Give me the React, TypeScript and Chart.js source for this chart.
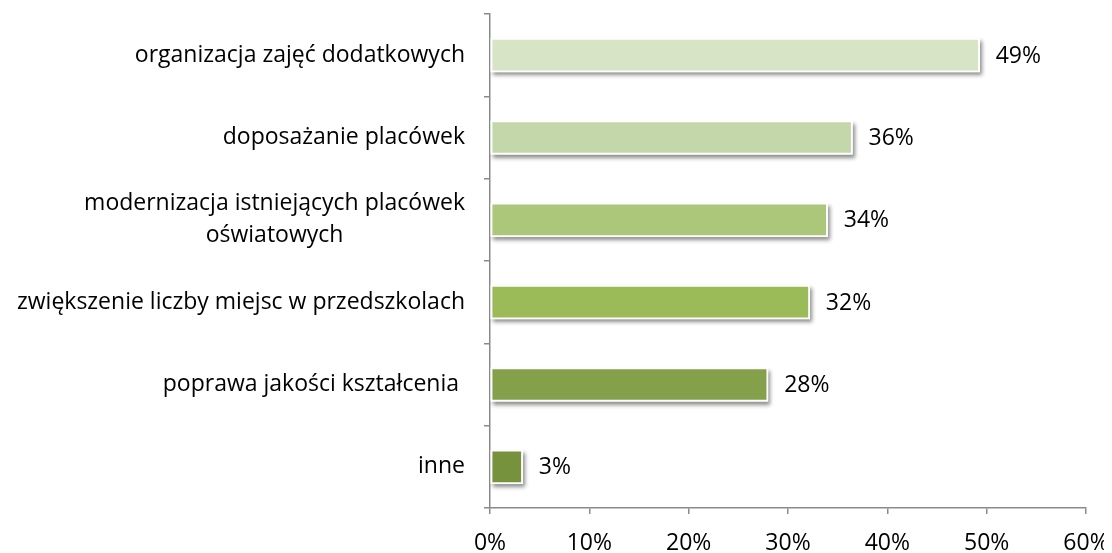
import React, { useEffect, useRef } from "react";
import { Chart, registerables } from "chart.js";

Chart.register(...registerables);

const categories: string[][] = [
  ["organizacja zajęć dodatkowych"],
  ["doposażanie placówek"],
  ["modernizacja istniejących placówek", "oświatowych"],
  ["zwiększenie liczby miejsc w przedszkolach"],
  ["poprawa jakości kształcenia "],
  ["inne"],
];
const values: number[] = [49.3, 36.5, 34.0, 32.2, 28.0, 3.3];
const valueLabels: string[] = ["49%", "36%", "34%", "32%", "28%", "3%"];
const barColors: string[] = ["#D7E4C5", "#C4D7AA", "#ACC67A", "#9BBB59", "#84A04B", "#76923C"];
const xTicks: number[] = [0, 10, 20, 30, 40, 50, 60];

const FONT_FAMILY = "'Open Sans', sans-serif";
const FONT_SIZE = 23;
const AXIS_COLOR = "#8a8a8a";

const shadowPlugin = {
  id: "barShadow",
  beforeDatasetsDraw(chart: any) {
    const ctx = chart.ctx;
    const meta = chart.getDatasetMeta(0);
    ctx.save();
    ctx.shadowColor = "rgba(0,0,0,0.45)";
    ctx.shadowBlur = 4;
    ctx.shadowOffsetX = 2;
    ctx.shadowOffsetY = 3;
    ctx.fillStyle = "#ffffff";
    meta.data.forEach((bar: any) => {
      const p = bar.getProps(["x", "y", "base", "height"], true);
      const left = Math.min(p.x, p.base);
      const w = Math.abs(p.x - p.base);
      ctx.fillRect(left, p.y - p.height / 2, w, p.height);
    });
    ctx.restore();
  },
};

const labelsPlugin = {
  id: "customLabels",
  afterDatasetsDraw(chart: any) {
    const ctx = chart.ctx;
    const meta = chart.getDatasetMeta(0);
    const yScale = chart.scales.y;
    ctx.save();
    ctx.font = `${FONT_SIZE}px ${FONT_FAMILY}`;
    ctx.fillStyle = "#000000";
    ctx.textBaseline = "middle";
    // value labels
    ctx.textAlign = "left";
    meta.data.forEach((bar: any, i: number) => {
      const p = bar.getProps(["x", "y"], true);
      ctx.fillText(valueLabels[i], p.x + 16, p.y + 1);
    });
    // category labels
    const rightEdge = yScale.right - 25;
    const lineH = 32;
    categories.forEach((lines, i) => {
      const cy = yScale.getPixelForValue(i);
      const widths = lines.map((l) => ctx.measureText(l).width);
      const maxW = Math.max(...widths);
      const centerX = rightEdge - maxW / 2;
      ctx.textAlign = "center";
      lines.forEach((l, j) => {
        const y = cy + (j - (lines.length - 1) / 2) * lineH;
        ctx.fillText(l, centerX, y);
      });
    });
    ctx.restore();
  },
};

export default function App() {
  const ref = useRef<HTMLCanvasElement>(null);
  useEffect(() => {
    if (!ref.current) return;
    const chart = new Chart(ref.current, {
      type: "bar",
      data: {
        labels: categories.map((c) => c.join(" ")),
        datasets: [
          {
            data: values,
            backgroundColor: barColors,
            borderColor: "#ffffff",
            borderWidth: 2,
            borderSkipped: false,
            barThickness: 34,
          },
        ],
      },
      options: {
        indexAxis: "y",
        responsive: false,
        animation: false,
        events: [],
        layout: { padding: { left: 0, right: 26, top: 6, bottom: 0 } },
        plugins: {
          legend: { display: false },
          tooltip: { enabled: false },
          title: { display: false },
        },
        scales: {
          x: {
            type: "linear",
            min: 0,
            max: 60,
            afterBuildTicks: (s: any) => {
              s.ticks = xTicks.map((v) => ({ value: v }));
            },
            afterFit: (s: any) => {
              s.height = 45;
              s.paddingLeft = 0;
              s.paddingRight = 0;
            },
            ticks: {
              callback: (v: any) => `${v}%`,
              font: { family: FONT_FAMILY, size: FONT_SIZE },
              color: "#000000",
              padding: 16,
              maxRotation: 0,
            },
            grid: {
              display: true,
              drawOnChartArea: false,
              drawTicks: true,
              tickLength: 6,
              color: AXIS_COLOR,
              lineWidth: 1.5,
            },
            border: { display: true, color: AXIS_COLOR, width: 1.5 },
          },
          y: {
            type: "category",
            offset: true,
            afterFit: (s: any) => {
              s.width = 482;
            },
            ticks: { display: false },
            grid: {
              display: true,
              offset: true,
              drawOnChartArea: false,
              drawTicks: true,
              tickLength: 6,
              color: AXIS_COLOR,
              lineWidth: 1.5,
            },
            border: { display: true, color: AXIS_COLOR, width: 1.5 },
          },
        },
      },
      plugins: [shadowPlugin, labelsPlugin],
    } as any);
    return () => chart.destroy();
  }, []);
  return (
    <canvas
      ref={ref}
      width={1104}
      height={545}
      style={{ display: "block", width: 1104, height: 545 }}
    />
  );
}
